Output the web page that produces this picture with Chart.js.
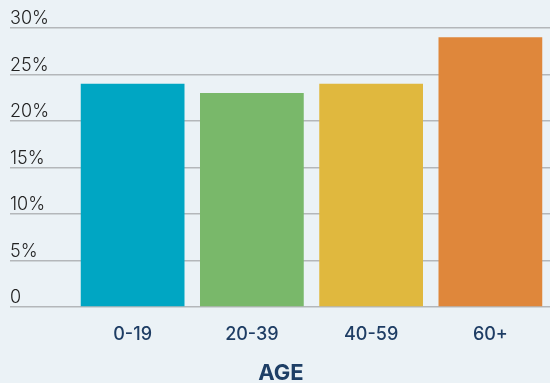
<!DOCTYPE html>
<html>
<head>
    <meta charset="utf-8">
    <script src="https://cdnjs.cloudflare.com/ajax/libs/Chart.js/4.4.1/chart.umd.min.js"></script>
    <title>Age chart</title>
    <style>
        html, body { margin: 0; padding: 0; background: #ebf2f6; }
        canvas { display: block; }
    </style>
</head>
<body>

<canvas id="myChart" width="550" height="383"></canvas>

<script>
    // categories and values (percent)
    var ageGroups = ['0-19', '20-39', '40-59', '60+'];
    var shares = [24, 23, 24, 29];
    var barColors = ['#00a6c3', '#79b86a', '#e0b83e', '#df873b'];
    var yTicks = [0, 5, 10, 15, 20, 25, 30];

    const data = {
        labels: ageGroups,
        datasets: [{
            data: shares,
            backgroundColor: barColors,
            borderWidth: 0,
            categoryPercentage: 1,
            barPercentage: 0.87
        }]
    };

    const config = {
        type: 'bar',
        data: data,
        options: {
            responsive: false,
            animation: false,
            layout: {
                padding: { top: 28, left: 10, right: -2, bottom: 0 }
            },
            plugins: {
                legend: { display: false },
                tooltip: { enabled: false },
                title: {
                    display: true,
                    position: 'bottom',
                    text: 'AGE',
                    color: '#1e3f66',
                    font: { family: 'Inter', size: 22, weight: 'bold' },
                    padding: { top: 6, bottom: -4 }
                }
            },
            scales: {
                x: {
                    grid: { display: false },
                    border: { display: false },
                    ticks: {
                        color: '#1e3d64',
                        padding: 9,
                        font: { family: 'Inter', size: 18, weight: '500' }
                    }
                },
                y: {
                    min: 0,
                    max: 30,
                    afterFit: function(scale) { scale.width = 63; },
                    afterBuildTicks: function(scale) {
                        scale.ticks = yTicks.map(function(v) { return { value: v }; });
                    },
                    border: { display: false },
                    grid: {
                        color: '#b4b7ba',
                        lineWidth: 1.5,
                        tickLength: 63
                    },
                    ticks: {
                        crossAlign: 'far',
                        labelOffset: -9,
                        color: '#222222',
                        font: { family: 'Inter', size: 18, weight: '300' },
                        callback: function(v) { return v === 0 ? '0' : v + '%'; }
                    }
                }
            }
        }
    };

    var myChart = new Chart(document.getElementById('myChart'), config);
</script>
</body>
</html>
